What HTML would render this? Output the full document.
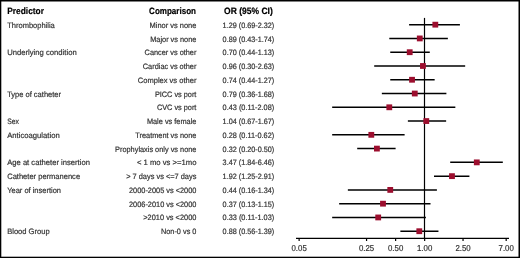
<!DOCTYPE html>
<html><head><meta charset="utf-8"><style>
html,body{margin:0;padding:0;background:#fff;width:520px;height:258px;overflow:hidden}
svg{display:block}
text{font-family:"Liberation Sans",sans-serif;font-size:7.8px;fill:#333;stroke:#333;stroke-width:0.2px;text-rendering:geometricPrecision}
</style></head><body>
<svg width="520" height="258" viewBox="0 0 520 258">
<rect width="520" height="258" fill="#fff"/>
<line x1="409.10" x2="459.91" y1="24.67" y2="24.67" stroke="#000" stroke-width="1.5"/>
<line x1="389.29" x2="447.86" y1="38.44" y2="38.44" stroke="#000" stroke-width="1.5"/>
<line x1="390.25" x2="429.77" y1="52.21" y2="52.21" stroke="#000" stroke-width="1.5"/>
<line x1="374.20" x2="465.17" y1="65.98" y2="65.98" stroke="#000" stroke-width="1.5"/>
<line x1="390.25" x2="434.66" y1="79.75" y2="79.75" stroke="#000" stroke-width="1.5"/>
<line x1="381.84" x2="446.39" y1="93.52" y2="93.52" stroke="#000" stroke-width="1.5"/>
<line x1="332.17" x2="455.34" y1="107.29" y2="107.29" stroke="#000" stroke-width="1.5"/>
<line x1="407.87" x2="446.14" y1="121.06" y2="121.06" stroke="#000" stroke-width="1.5"/>
<line x1="332.17" x2="404.62" y1="134.83" y2="134.83" stroke="#000" stroke-width="1.5"/>
<line x1="357.21" x2="395.61" y1="148.60" y2="148.60" stroke="#000" stroke-width="1.5"/>
<line x1="450.20" x2="502.82" y1="162.37" y2="162.37" stroke="#000" stroke-width="1.5"/>
<line x1="434.00" x2="469.41" y1="176.14" y2="176.14" stroke="#000" stroke-width="1.5"/>
<line x1="347.86" x2="436.91" y1="189.91" y2="189.91" stroke="#000" stroke-width="1.5"/>
<line x1="339.16" x2="430.51" y1="203.68" y2="203.68" stroke="#000" stroke-width="1.5"/>
<line x1="332.17" x2="425.89" y1="217.45" y2="217.45" stroke="#000" stroke-width="1.5"/>
<line x1="400.36" x2="438.45" y1="231.22" y2="231.22" stroke="#000" stroke-width="1.5"/>
<line x1="424.5" x2="424.5" y1="17.9" y2="238.3" stroke="#000" stroke-width="1.2"/>
<rect x="432.42" y="21.77" width="5.8" height="5.8" fill="#9c0e2e"/>
<rect x="416.87" y="35.54" width="5.8" height="5.8" fill="#9c0e2e"/>
<rect x="406.81" y="49.31" width="5.8" height="5.8" fill="#9c0e2e"/>
<rect x="420.04" y="63.08" width="5.8" height="5.8" fill="#9c0e2e"/>
<rect x="409.13" y="76.85" width="5.8" height="5.8" fill="#9c0e2e"/>
<rect x="411.87" y="90.62" width="5.8" height="5.8" fill="#9c0e2e"/>
<rect x="386.39" y="104.39" width="5.8" height="5.8" fill="#9c0e2e"/>
<rect x="423.39" y="118.16" width="5.8" height="5.8" fill="#9c0e2e"/>
<rect x="368.41" y="131.93" width="5.8" height="5.8" fill="#9c0e2e"/>
<rect x="374.01" y="145.70" width="5.8" height="5.8" fill="#9c0e2e"/>
<rect x="473.88" y="159.47" width="5.8" height="5.8" fill="#9c0e2e"/>
<rect x="449.08" y="173.24" width="5.8" height="5.8" fill="#9c0e2e"/>
<rect x="387.35" y="187.01" width="5.8" height="5.8" fill="#9c0e2e"/>
<rect x="380.09" y="200.78" width="5.8" height="5.8" fill="#9c0e2e"/>
<rect x="375.30" y="214.55" width="5.8" height="5.8" fill="#9c0e2e"/>
<rect x="416.39" y="228.32" width="5.8" height="5.8" fill="#9c0e2e"/>
<line x1="296.0" x2="509.0" y1="238.3" y2="238.3" stroke="#000" stroke-width="1.3"/>
<line x1="299.13" x2="299.13" y1="238.3" y2="241.00" stroke="#000" stroke-width="1.2"/>
<line x1="366.56" x2="366.56" y1="238.3" y2="241.00" stroke="#000" stroke-width="1.2"/>
<line x1="395.61" x2="395.61" y1="238.3" y2="241.00" stroke="#000" stroke-width="1.2"/>
<line x1="424.65" x2="424.65" y1="238.3" y2="241.00" stroke="#000" stroke-width="1.2"/>
<line x1="463.04" x2="463.04" y1="238.3" y2="241.00" stroke="#000" stroke-width="1.2"/>
<line x1="506.18" x2="506.18" y1="238.3" y2="241.00" stroke="#000" stroke-width="1.2"/>
<rect x="0" y="0" width="520" height="1.5" fill="#000"/>
<rect x="0" y="0" width="1.3" height="258" fill="#000"/>
<rect x="518.5" y="0" width="1.5" height="258" fill="#000"/>
<rect x="0" y="256.7" width="520" height="1.3" fill="#000"/>
<g style="filter:grayscale(1)">
<text x="7.2" y="13.80" style="font-weight:bold;font-size:9.2px;fill:#000;stroke:#000" textLength="36.80" lengthAdjust="spacingAndGlyphs" fill="#000">Predictor</text>
<text x="149.1" y="13.80" style="font-weight:bold;font-size:9.2px;fill:#000;stroke:#000" textLength="46.90" lengthAdjust="spacingAndGlyphs" fill="#000">Comparison</text>
<text x="224" y="13.80" style="font-weight:bold;font-size:9.2px;fill:#000;stroke:#000" textLength="48.80" lengthAdjust="spacingAndGlyphs" fill="#000">OR (95% CI)</text>
<text x="7.2" y="28" textLength="47.60" lengthAdjust="spacingAndGlyphs">Thrombophilia</text>
<text x="149.6" y="28" textLength="46.80" lengthAdjust="spacingAndGlyphs">Minor vs none</text>
<text x="222.6" y="28" style="font-size:7.8px" textLength="51.60" lengthAdjust="spacingAndGlyphs">1.29 (0.69-2.32)</text>
<text x="150.2" y="42" textLength="46.20" lengthAdjust="spacingAndGlyphs">Major vs none</text>
<text x="222.6" y="42" style="font-size:7.8px" textLength="51.60" lengthAdjust="spacingAndGlyphs">0.89 (0.43-1.74)</text>
<text x="7.2" y="55" textLength="69.50" lengthAdjust="spacingAndGlyphs">Underlying condition</text>
<text x="144.6" y="55" textLength="51.80" lengthAdjust="spacingAndGlyphs">Cancer vs other</text>
<text x="222.6" y="55" style="font-size:7.8px" textLength="51.60" lengthAdjust="spacingAndGlyphs">0.70 (0.44-1.13)</text>
<text x="142.8" y="69" textLength="53.60" lengthAdjust="spacingAndGlyphs">Cardiac vs other</text>
<text x="222.6" y="69" style="font-size:7.8px" textLength="51.60" lengthAdjust="spacingAndGlyphs">0.96 (0.30-2.63)</text>
<text x="137.8" y="83" textLength="58.60" lengthAdjust="spacingAndGlyphs">Complex vs other</text>
<text x="222.6" y="83" style="font-size:7.8px" textLength="51.60" lengthAdjust="spacingAndGlyphs">0.74 (0.44-1.27)</text>
<text x="7.2" y="97" textLength="53.80" lengthAdjust="spacingAndGlyphs">Type of catheter</text>
<text x="154.9" y="97" textLength="41.50" lengthAdjust="spacingAndGlyphs">PICC vs port</text>
<text x="222.6" y="97" style="font-size:7.8px" textLength="51.60" lengthAdjust="spacingAndGlyphs">0.79 (0.36-1.68)</text>
<text x="156.9" y="110" textLength="39.50" lengthAdjust="spacingAndGlyphs">CVC vs port</text>
<text x="222.6" y="110" style="font-size:7.8px" textLength="51.60" lengthAdjust="spacingAndGlyphs">0.43 (0.11-2.08)</text>
<text x="7.2" y="124" textLength="11.70" lengthAdjust="spacingAndGlyphs">Sex</text>
<text x="146.9" y="124" textLength="49.50" lengthAdjust="spacingAndGlyphs">Male vs female</text>
<text x="222.6" y="124" style="font-size:7.8px" textLength="51.60" lengthAdjust="spacingAndGlyphs">1.04 (0.67-1.67)</text>
<text x="7.2" y="138" textLength="52.50" lengthAdjust="spacingAndGlyphs">Anticoagulation</text>
<text x="135.3" y="138" textLength="61.10" lengthAdjust="spacingAndGlyphs">Treatment vs none</text>
<text x="222.6" y="138" style="font-size:7.8px" textLength="51.60" lengthAdjust="spacingAndGlyphs">0.28 (0.11-0.62)</text>
<text x="115.1" y="152" textLength="81.30" lengthAdjust="spacingAndGlyphs">Prophylaxis only vs none</text>
<text x="222.6" y="152" style="font-size:7.8px" textLength="51.60" lengthAdjust="spacingAndGlyphs">0.32 (0.20-0.50)</text>
<text x="7.2" y="165" textLength="82.70" lengthAdjust="spacingAndGlyphs">Age at catheter insertion</text>
<text x="137.0" y="165" textLength="59.40" lengthAdjust="spacingAndGlyphs">&lt; 1 mo vs &gt;=1mo</text>
<text x="222.6" y="165" style="font-size:7.8px" textLength="51.60" lengthAdjust="spacingAndGlyphs">3.47 (1.84-6.46)</text>
<text x="7.2" y="179" textLength="72.90" lengthAdjust="spacingAndGlyphs">Catheter permanence</text>
<text x="126.2" y="179" textLength="70.20" lengthAdjust="spacingAndGlyphs">&gt; 7 days vs &lt;=7 days</text>
<text x="222.6" y="179" style="font-size:7.8px" textLength="51.60" lengthAdjust="spacingAndGlyphs">1.92 (1.25-2.91)</text>
<text x="7.2" y="193" textLength="53.80" lengthAdjust="spacingAndGlyphs">Year of insertion</text>
<text x="129.0" y="193" textLength="67.40" lengthAdjust="spacingAndGlyphs">2000-2005 vs &lt;2000</text>
<text x="222.6" y="193" style="font-size:7.8px" textLength="51.60" lengthAdjust="spacingAndGlyphs">0.44 (0.16-1.34)</text>
<text x="129.0" y="207" textLength="67.40" lengthAdjust="spacingAndGlyphs">2006-2010 vs &lt;2000</text>
<text x="222.6" y="207" style="font-size:7.8px" textLength="51.60" lengthAdjust="spacingAndGlyphs">0.37 (0.13-1.15)</text>
<text x="143.3" y="220" textLength="53.10" lengthAdjust="spacingAndGlyphs">&gt;2010 vs &lt;2000</text>
<text x="222.6" y="220" style="font-size:7.8px" textLength="51.60" lengthAdjust="spacingAndGlyphs">0.33 (0.11-1.03)</text>
<text x="7.2" y="234" textLength="42.40" lengthAdjust="spacingAndGlyphs">Blood Group</text>
<text x="161.0" y="234" textLength="35.40" lengthAdjust="spacingAndGlyphs">Non-0 vs 0</text>
<text x="222.6" y="234" style="font-size:7.8px" textLength="51.60" lengthAdjust="spacingAndGlyphs">0.88 (0.56-1.39)</text>
<text x="299.13" y="250.9" text-anchor="middle" style="font-size:8.6px" textLength="15.3" lengthAdjust="spacingAndGlyphs">0.05</text>
<text x="366.56" y="250.9" text-anchor="middle" style="font-size:8.6px" textLength="15.3" lengthAdjust="spacingAndGlyphs">0.25</text>
<text x="395.61" y="250.9" text-anchor="middle" style="font-size:8.6px" textLength="15.3" lengthAdjust="spacingAndGlyphs">0.50</text>
<text x="424.65" y="250.9" text-anchor="middle" style="font-size:8.6px" textLength="15.3" lengthAdjust="spacingAndGlyphs">1.00</text>
<text x="463.04" y="250.9" text-anchor="middle" style="font-size:8.6px" textLength="15.3" lengthAdjust="spacingAndGlyphs">2.50</text>
<text x="506.18" y="250.9" text-anchor="middle" style="font-size:8.6px" textLength="15.3" lengthAdjust="spacingAndGlyphs">7.00</text>
</g>
</svg>
</body></html>
